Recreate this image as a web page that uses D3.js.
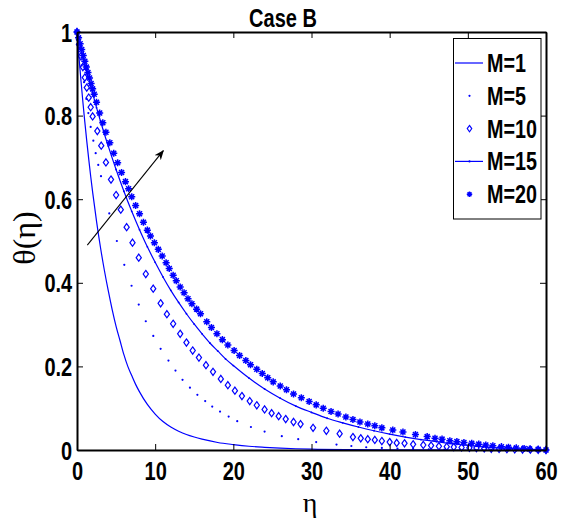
<!DOCTYPE html>
<html>
<head>
<meta charset="utf-8">
<script src="https://cdn.jsdelivr.net/npm/d3@7"></script>
<style>
  html, body { margin: 0; padding: 0; background: #fff; }
  svg { display: block; }
  .bold { font-family: "Liberation Sans", Arial, sans-serif; font-weight: bold; fill: #000; }
</style>
</head>
<body>
<svg id="chart" width="569" height="520"></svg>
<script>
// Temperature profiles theta(eta) for several values of M (Case B)

// M = 1 : solid line
const eta1 = [0,0.25,0.5,0.75,1,1.25,1.5,1.75,2,2.5,3,3.5,4,4.5,5,5.5,6,6.5,7,7.5,8,9,10,11,12,13,14,15,16,18,20,22,24,26,28,30,35,40,45,50,55,60];
const theta1 = [1,0.94,0.885,0.833,0.785,0.739,0.696,0.655,0.617,0.547,0.485,0.43,0.381,0.336,0.296,0.262,0.228,0.2,0.178,0.157,0.139,0.109,0.086,0.068,0.055,0.045,0.037,0.031,0.026,0.018,0.013,0.009,0.0065,0.0045,0.003,0.002,0.0008,0.0003,0.0001,0,0,0];

// M = 5 : point markers
const eta5 = [0,0.3,0.6,0.9,1.2,1.45,1.75,2.09,2.39,2.72,3.07,4.13,5.1,6.05,6.98,7.9,8.8,9.76,10.7,11.7,12.6,13.5,14.45,15.4,16.4,17.3,18.3,19.4,20.5,22.25,24,26.2,28.3,30.6,33.2,35.1,37,39,41,43,45,47,49,51,53,55,57,60];
const theta5 = [1,0.96,0.92,0.88,0.84,0.806,0.773,0.74,0.71,0.682,0.655,0.566,0.5,0.443,0.393,0.348,0.308,0.273,0.242,0.214,0.19,0.168,0.149,0.132,0.117,0.104,0.092,0.08,0.069,0.055,0.044,0.033,0.026,0.019,0.013,0.0096,0.0066,0.005,0.0035,0.0025,0.0018,0.0012,0.0008,0.0005,0.0003,0.0002,0.0001,0];

// M = 10 : diamond markers
const eta10 = [0,0.25,0.5,0.75,1.0,1.25,1.5,1.75,2.0,2.6,3.1,3.7,4.35,5.0,5.6,6.35,7.1,7.9,8.8,9.75,10.7,11.5,12.3,13.2,14.0,14.8,15.6,16.5,17.4,18.4,19.3,20.2,21.1,22.1,23.0,24.0,24.9,25.8,26.7,27.7,28.6,30.2,31.9,33.6,35.3,36.3,37.2,38.1,39.0,40.0,40.9,41.9,43.0,44.3,45.3,46.3,47.3,48.2,49.2,50.2,51.1,52.1,53.0,54.0,55.0,56.0,57.0,58.0,59.0,60];
const theta10 = [1,0.97,0.942,0.916,0.891,0.867,0.843,0.82,0.798,0.763,0.728,0.688,0.647,0.61,0.575,0.533,0.496,0.46,0.421,0.386,0.351,0.325,0.302,0.278,0.257,0.238,0.221,0.203,0.187,0.17,0.155,0.142,0.129,0.117,0.107,0.097,0.088,0.081,0.074,0.067,0.062,0.053,0.046,0.039,0.031,0.028,0.026,0.024,0.0215,0.019,0.017,0.016,0.0136,0.012,0.0105,0.009,0.008,0.007,0.006,0.0052,0.0045,0.0038,0.003,0.0025,0.002,0.0015,0.001,0.0007,0.0003,0];

// M = 15 : line with small points
const eta15 = [0,0.5,1,1.5,2,2.5,3,3.5,4,5,6,7,8,9,10,11,12,13,14,15,16,17,18,19,20,22,24,26,28,30,32,34,36,38,40,42,44,46,48,50,52,54,56,58,60];
const theta15 = [1,0.962,0.925,0.888,0.853,0.819,0.787,0.756,0.727,0.671,0.619,0.571,0.527,0.486,0.449,0.414,0.382,0.353,0.326,0.301,0.278,0.256,0.237,0.218,0.202,0.172,0.146,0.124,0.105,0.09,0.076,0.065,0.055,0.046,0.038,0.031,0.025,0.02,0.015,0.011,0.0075,0.005,0.003,0.0013,0];

// M = 20 : asterisk markers
const eta20 = [0,0.2,0.4,0.6,0.8,1.0,1.2,1.4,1.6,1.8,2.0,2.2,2.5,2.9,3.3,3.7,4.2,4.7,5.2,5.7,6.2,6.6,7.0,7.5,8.0,8.5,9.0,9.4,9.9,10.4,10.9,11.4,11.8,12.3,12.7,13.2,13.7,14.2,14.7,15.3,15.8,16.6,17.2,17.9,18.6,19.3,20.1,20.8,21.6,22.2,23.0,23.7,24.4,25.1,26.0,26.8,27.7,28.7,29.7,30.6,31.5,32.5,33.4,34.4,35.3,36.2,37.2,38.1,39.0,40.4,41.7,43.3,44.8,45.8,46.7,47.7,48.6,49.5,50.5,51.4,52.3,53.2,54.3,55.2,56.2,57.2,57.9,59.0,60];
const theta20 = [1,0.986,0.972,0.958,0.944,0.930,0.916,0.903,0.890,0.877,0.864,0.851,0.832,0.806,0.783,0.760,0.735,0.71,0.687,0.664,0.642,0.625,0.606,0.585,0.565,0.545,0.526,0.512,0.496,0.48,0.464,0.448,0.434,0.418,0.405,0.39,0.376,0.362,0.35,0.337,0.326,0.307,0.293,0.278,0.264,0.251,0.238,0.226,0.214,0.204,0.193,0.183,0.173,0.163,0.153,0.144,0.134,0.125,0.116,0.108,0.1,0.092,0.086,0.079,0.073,0.067,0.062,0.058,0.053,0.048,0.043,0.037,0.032,0.028,0.026,0.022,0.02,0.018,0.016,0.014,0.012,0.01,0.008,0.0065,0.005,0.0035,0.0025,0.0015,0];

const legendLabels = ["M=1", "M=5", "M=10", "M=15", "M=20"];
const xTicks = [0, 10, 20, 30, 40, 50, 60];
const yTicks = [0, 0.2, 0.4, 0.6, 0.8, 1];
// Arrow showing the direction of increasing M: [eta, theta] of tail and head
const arrowTail = [1.32, 0.49];
const arrowHead = [11.04, 0.716];

const BLUE = "#0000ff";
const svg = d3.select("#chart");

const x = d3.scaleLinear().domain([0, 60]).range([77, 546]);
const y = d3.scaleLinear().domain([0, 1]).range([450, 32]);

const zip = (a, b) => a.map((v, i) => [v, b[i]]);

// custom marker shapes
const symStar = {
  draw(ctx, size) {
    const r = Math.sqrt(size) / 2, d = r * Math.SQRT1_2;
    ctx.moveTo(-r, 0); ctx.lineTo(r, 0);
    ctx.moveTo(0, -r); ctx.lineTo(0, r);
    ctx.moveTo(-d, -d); ctx.lineTo(d, d);
    ctx.moveTo(-d, d); ctx.lineTo(d, -d);
  }
};
const symDiamond = {
  draw(ctx, size) {
    const h = Math.sqrt(size) / 2, w = h * 0.72;
    ctx.moveTo(0, -h); ctx.lineTo(w, 0); ctx.lineTo(0, h); ctx.lineTo(-w, 0); ctx.closePath();
  }
};

const plot = svg.append("g");
svg.append("clipPath").attr("id", "plotclip")
  .append("rect").attr("x", 70).attr("y", 25).attr("width", 483).attr("height", 432);
plot.attr("clip-path", "url(#plotclip)");

const line = d3.line().x(d => x(d[0])).y(d => y(d[1])).curve(d3.curveMonotoneX);

// M = 1
plot.append("path").datum(zip(eta1, theta1))
  .attr("d", line).attr("fill", "none").attr("stroke", BLUE).attr("stroke-width", 1.2);

// M = 5
plot.append("g").selectAll("circle").data(zip(eta5, theta5)).join("circle")
  .attr("cx", d => x(d[0])).attr("cy", d => y(d[1])).attr("r", 1.1).attr("fill", BLUE);

// M = 10
plot.append("g").selectAll("path").data(zip(eta10, theta10)).join("path")
  .attr("transform", d => `translate(${x(d[0])},${y(d[1])})`)
  .attr("d", d3.symbol(symDiamond, 52)())
  .attr("fill", "none").attr("stroke", BLUE).attr("stroke-width", 1.2);

// M = 15
plot.append("path").datum(zip(eta15, theta15))
  .attr("d", line).attr("fill", "none").attr("stroke", BLUE).attr("stroke-width", 1.2);
plot.append("g").selectAll("circle").data(zip(eta15, theta15)).join("circle")
  .attr("cx", d => x(d[0])).attr("cy", d => y(d[1])).attr("r", 0.9).attr("fill", BLUE);

// M = 20
plot.append("g").selectAll("path").data(zip(eta20, theta20)).join("path")
  .attr("transform", d => `translate(${x(d[0])},${y(d[1])})`)
  .attr("d", d3.symbol(symStar, 50)())
  .attr("fill", "none").attr("stroke", BLUE).attr("stroke-width", 1.5);

// axes: ticks drawn inward on all four sides
const SX = 0.8;
const gx = svg.append("g").attr("transform", `translate(0,${y(0)})`)
  .call(d3.axisBottom(x).tickValues(xTicks).tickFormat(d3.format("d")).tickSizeInner(-6).tickSizeOuter(0));
gx.selectAll("text").attr("y", 12).attr("class", "bold").style("font-size", "25px")
  .attr("transform", `scale(${SX},1)`);

const gy = svg.append("g").attr("transform", `translate(${x(0)},0)`)
  .call(d3.axisLeft(y).tickValues(yTicks).tickFormat(d => d === 0 || d === 1 ? d3.format("d")(d) : d3.format(".1f")(d)).tickSizeInner(-6).tickSizeOuter(0));
gy.selectAll("text").attr("x", -6).attr("dy", "0.36em").attr("class", "bold").style("font-size", "25px")
  .attr("transform", `scale(${SX},1)`);

const gt = svg.append("g").attr("transform", `translate(0,${y(1)})`)
  .call(d3.axisTop(x).tickValues(xTicks).tickFormat("").tickSizeInner(-6).tickSizeOuter(0));
const gr = svg.append("g").attr("transform", `translate(${x(60)},0)`)
  .call(d3.axisRight(y).tickValues(yTicks).tickFormat("").tickSizeInner(-6).tickSizeOuter(0));

[gx, gy, gt, gr].forEach(g => {
  g.select(".domain").attr("stroke", "#000").attr("stroke-width", 2);
  g.selectAll(".tick line").attr("stroke", "#000").attr("stroke-width", 1);
});

// title
svg.append("text").attr("class", "bold").style("font-size", "25px")
  .attr("text-anchor", "middle")
  .attr("transform", `translate(283,27) scale(0.8,1)`)
  .text("Case B");

// axis labels
svg.append("text")
  .attr("text-anchor", "middle")
  .attr("transform", `translate(310,512)`)
  .style("font-family", "'Liberation Serif', 'Times New Roman', serif")
  .style("font-size", "28px")
  .text("η");

svg.append("text")
  .attr("text-anchor", "middle")
  .attr("transform", `translate(35,238) rotate(-90)`)
  .style("font-family", "'Liberation Serif', 'Times New Roman', serif")
  .style("font-size", "32px")
  .text("θ(η)");

// arrow
svg.append("defs").append("marker")
  .attr("id", "arrowhead").attr("viewBox", "0 0 10 10")
  .attr("refX", 9).attr("refY", 5)
  .attr("markerWidth", 10).attr("markerHeight", 10)
  .attr("markerUnits", "userSpaceOnUse")
  .attr("orient", "auto")
  .append("path").attr("d", "M0,1 L10,5 L0,9 L3,5 Z").attr("fill", "#000");

svg.append("line")
  .attr("x1", x(arrowTail[0])).attr("y1", y(arrowTail[1]))
  .attr("x2", x(arrowHead[0])).attr("y2", y(arrowHead[1]))
  .attr("stroke", "#000").attr("stroke-width", 1.1)
  .attr("marker-end", "url(#arrowhead)");

// legend
const lg = svg.append("g");
lg.append("rect").attr("x", 453.5).attr("y", 38.5).attr("width", 87.5).attr("height", 180.5)
  .attr("fill", "#fff").attr("stroke", "#000").attr("stroke-width", 1);

const rowY = i => 63 + i * 32.8;
const sx0 = 455, sx1 = 483, sxm = 469.5;

legendLabels.forEach((lab, i) => {
  const cy = rowY(i);
  const g = lg.append("g");
  if (i === 0 || i === 3) {
    g.append("line").attr("x1", sx0).attr("x2", sx1).attr("y1", cy).attr("y2", cy)
      .attr("stroke", BLUE).attr("stroke-width", 1.2);
  }
  if (i === 1 || i === 3) {
    g.append("circle").attr("cx", sxm).attr("cy", cy).attr("r", 1.1).attr("fill", BLUE);
  }
  if (i === 2) {
    g.append("path").attr("transform", `translate(${sxm},${cy})`)
      .attr("d", d3.symbol(symDiamond, 40)())
      .attr("fill", "none").attr("stroke", BLUE).attr("stroke-width", 1.1);
  }
  if (i === 4) {
    g.append("path").attr("transform", `translate(${sxm},${cy})`)
      .attr("d", d3.symbol(symStar, 30)())
      .attr("fill", "none").attr("stroke", BLUE).attr("stroke-width", 1.4);
  }
  g.append("text").attr("class", "bold").style("font-size", "25px")
    .attr("transform", `translate(487,${cy + 9}) scale(0.79,1)`)
    .text(lab);
});
</script>
</body>
</html>
